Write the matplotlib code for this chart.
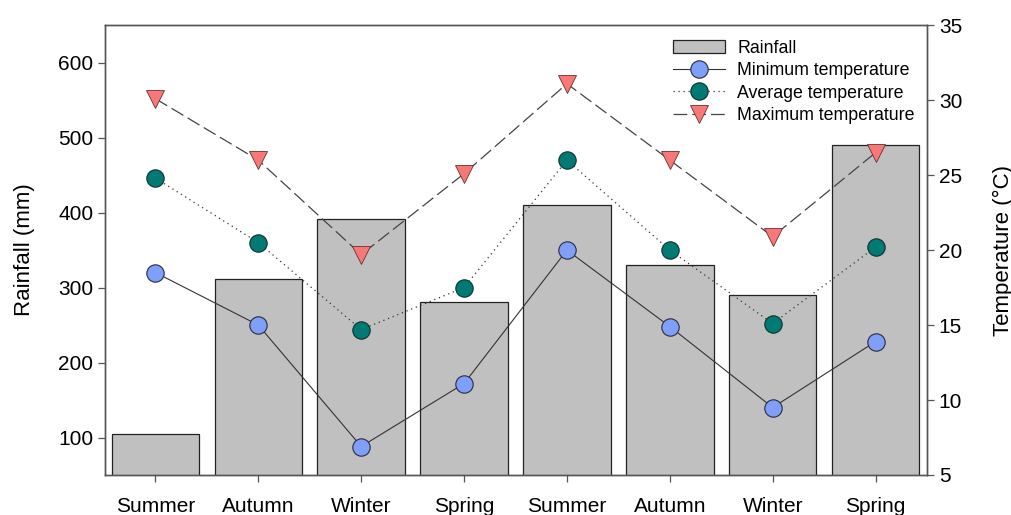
import matplotlib
matplotlib.use("Agg")
import matplotlib.pyplot as plt
import numpy as np

plt.rcParams["font.family"] = ["Liberation Sans", "DejaVu Sans"]

seasons = ["Summer", "Autumn", "Winter", "Spring", "Summer", "Autumn", "Winter", "Spring"]
rainfall = [105, 311, 391, 281, 410, 330, 290, 490]
temp_min = [18.5, 15.0, 6.9, 11.1, 20.0, 14.9, 9.5, 13.9]
temp_avg = [24.8, 20.5, 14.7, 17.5, 26.0, 20.0, 15.1, 20.2]
temp_max = [30.1, 26.0, 19.7, 25.1, 31.1, 26.0, 20.9, 26.5]

x = np.arange(len(seasons))
spine_col = "#555555"

fig = plt.figure(figsize=(10.12, 5.15), dpi=100)
ax = fig.add_axes([0.1038, 0.0777, 0.8122, 0.8733])
ax2 = ax.twinx()

bars = ax.bar(x, rainfall, width=0.85, color="#c0c0c0", edgecolor="#222222",
              linewidth=0.9, label="Rainfall")
ax.set_xlim(-0.49, 7.5)
ax.set_ylim(50, 650)
ax.set_yticks([100, 200, 300, 400, 500, 600])
ax.set_xticks(x)
ax.set_xticklabels(seasons)
ax.set_ylabel("Rainfall (mm)", fontsize=16, labelpad=17)

l_min, = ax2.plot(x, temp_min, color="#333333", linewidth=0.8, marker="o", markersize=12.5,
                  markerfacecolor="#7f9ff8", markeredgecolor="#2a2a40", markeredgewidth=0.8,
                  label="Minimum temperature")
l_avg, = ax2.plot(x, temp_avg, color="#333333", linewidth=0.9, linestyle=(0, (1, 3)), marker="o",
                  markersize=12.5, markerfacecolor="#007a72", markeredgecolor="#103030",
                  markeredgewidth=0.8, label="Average temperature")
l_max, = ax2.plot(x, temp_max, color="#444444", linewidth=0.9, linestyle=(0, (11, 4)), marker="v",
                  markersize=13, markerfacecolor="#f87878", markeredgecolor="#6a3030",
                  markeredgewidth=0.6, label="Maximum temperature")
ax2.set_ylim(5, 35)
ax2.set_yticks([5, 10, 15, 20, 25, 30, 35])
ax2.set_ylabel("Temperature (°C)", fontsize=16, labelpad=22)

for a in (ax, ax2):
    for s in a.spines.values():
        s.set_color(spine_col)
        s.set_linewidth(1.0)
    a.tick_params(axis="both", labelsize=15, length=5, width=0.9, color=spine_col, direction="out")
ax.tick_params(axis="x", pad=11)

ax2.legend(handles=[bars, l_min, l_avg, l_max], loc="upper right", frameon=False, fontsize=12.8,
           bbox_to_anchor=(1.0, 0.995), handlelength=2.9, handletextpad=0.7, labelspacing=0.3,
           borderaxespad=0.3)

fig.savefig("out.png", dpi=100)
